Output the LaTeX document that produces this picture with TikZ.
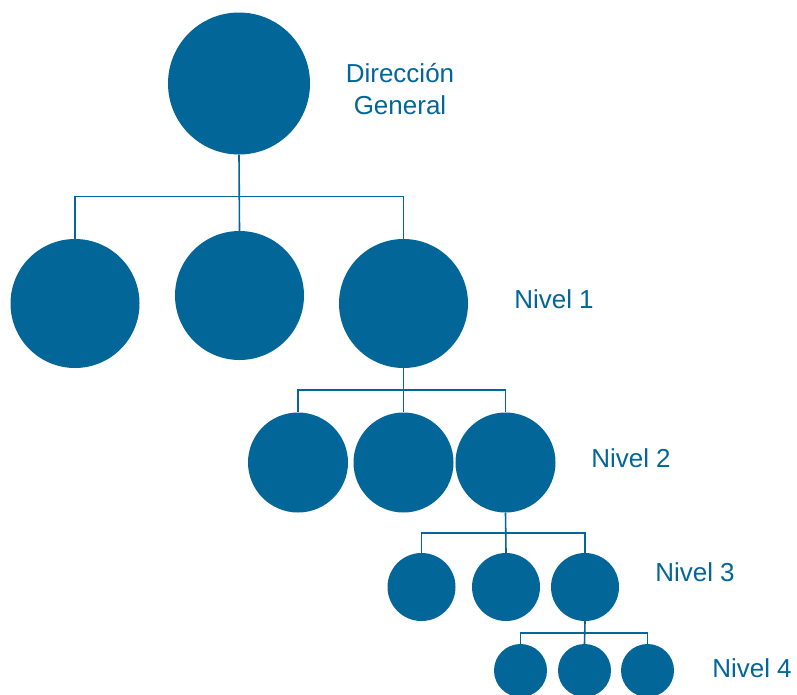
\documentclass[tikz,border=0pt]{standalone}
\usepackage{fontspec}
\setmainfont{Liberation Sans}
\definecolor{orgblue}{RGB}{2,102,153}
\begin{document}
\begin{tikzpicture}[x=1pt,y=-1pt,
  unit/.style={circle,fill=orgblue,draw=none,inner sep=0pt,minimum size=#1},
  conn/.style={draw=orgblue,line width=1.6pt},
  lbl/.style={text=orgblue,font=\fontsize{26}{32}\selectfont,anchor=base,inner sep=0pt}]
\useasboundingbox (0,0) rectangle (797,694);
% nodes
\node[unit=142pt] (top) at (239,83.5) {};
\node[unit=129pt] (a1) at (75,303.5) {};
\node[unit=129pt] (a2) at (239.5,295.5) {};
\node[unit=129pt] (a3) at (403.5,303.5) {};
\node[unit=100pt] (b1) at (298,462.5) {};
\node[unit=100pt] (b2) at (403.5,462.5) {};
\node[unit=100pt] (b3) at (505.5,462.5) {};
\node[unit=68pt] (c1) at (421.5,587) {};
\node[unit=68pt] (c2) at (506,587) {};
\node[unit=68pt] (c3) at (585,587) {};
\node[unit=53pt] (d1) at (520.5,670.5) {};
\node[unit=53pt] (d2) at (584.5,670.5) {};
\node[unit=53pt] (d3) at (647.5,670.5) {};
% junctions
\coordinate (j1) at (239.5,196.5);
\coordinate (j2) at (403.5,390);
\coordinate (j3) at (505.5,533);
\coordinate (j4) at (584.5,633);
% connectors
\draw[conn] (top.south) -- (a2.north);
\draw[conn] (a1.north) |- (j1) -| (a3.north);
\draw[conn] (a3.south) -- (b2.north);
\draw[conn] (b1.north) |- (j2) -| (b3.north);
\draw[conn] (b3.south) -- (c2.north);
\draw[conn] (c1.north) |- (j3) -| (c3.north);
\draw[conn] (c3.south) -- (d2.north);
\draw[conn] (d1.north) |- (j4) -| (d3.north);
% labels
\node[lbl] (t1) at (400,82) {Dirección};
\node[lbl] (t2) at (400,114) {General};
\node[lbl] (n1) at (554,308) {Nivel 1};
\node[lbl] (n2) at (631,467) {Nivel 2};
\node[lbl] (n3) at (695,581) {Nivel 3};
\node[lbl] (n4) at (752,677) {Nivel 4};
\end{tikzpicture}
\end{document}
